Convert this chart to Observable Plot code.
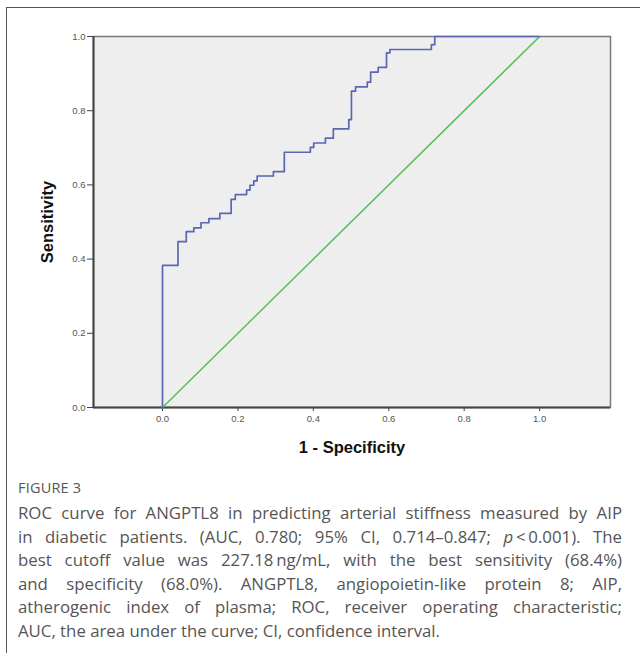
<!DOCTYPE html>
<html>
<head>
<meta charset="utf-8">
<script src="https://cdn.jsdelivr.net/npm/d3@7"></script>
<script src="https://cdn.jsdelivr.net/npm/@observablehq/plot@0.6"></script>
<style>
  html, body { margin: 0; padding: 0; background: #fff; }
  #wrap { position: relative; width: 640px; height: 653px; overflow: hidden; }
  #border { position: absolute; left: 6px; top: 7px; width: 640px; height: 660px;
            border-top: 1.5px solid #555; border-left: 1.5px solid #555; box-sizing: border-box; }
  #chart { position: absolute; left: 0; top: 0; }
  #fig { position: absolute; left: 18px; top: 478px; font-family: "Open Sans", sans-serif;
         font-size: 14.5px; font-weight: 500; color: #555; letter-spacing: 0.2px; line-height: 20px; }
  #cap { position: absolute; left: 18px; top: 501px; width: 604px; font-family: "Open Sans", sans-serif;
         font-size: 16.8px; color: #555; line-height: 23.6px; }
  #cap div { text-align: justify; text-align-last: justify; height: 23.6px; }
  #cap div.last { text-align: left; text-align-last: left; }
</style>
</head>
<body>
<div id="wrap">
  <div id="border"></div>
  <div id="chart"></div>
  <div id="fig">FIGURE 3</div>
  <div id="cap">
    <div>ROC curve for ANGPTL8 in predicting arterial stiffness measured by AIP</div>
    <div>in diabetic patients. (AUC, 0.780; 95% CI, 0.714&#8211;0.847; <i>p</i>&#8201;&lt;&#8201;0.001). The</div>
    <div>best cutoff value was 227.18&#8201;ng/mL, with the best sensitivity (68.4%)</div>
    <div>and specificity (68.0%). ANGPTL8, angiopoietin-like protein 8; AIP,</div>
    <div>atherogenic index of plasma; ROC, receiver operating characteristic;</div>
    <div class="last">AUC, the area under the curve; CI, confidence interval.</div>
  </div>
</div>
<script>
// ROC curve points (top of each vertical step): 1 - specificity, sensitivity
const fpr = [0, 0, 0.041, 0.063, 0.083, 0.102, 0.123, 0.152, 0.182, 0.193, 0.223, 0.232, 0.242, 0.251, 0.294, 0.323,
             0.392, 0.401, 0.432, 0.453, 0.494, 0.501, 0.512, 0.543, 0.552, 0.572, 0.594, 0.603, 0.713, 0.722, 1.0];
const tpr = [0, 0.383, 0.447, 0.474, 0.484, 0.498, 0.509, 0.523, 0.561, 0.574, 0.586, 0.599, 0.611, 0.624, 0.636, 0.688,
             0.701, 0.713, 0.726, 0.751, 0.776, 0.853, 0.864, 0.877, 0.904, 0.917, 0.956, 0.965, 0.978, 1.0, 1.0];
// Reference line
const refX = [0, 1];
const refY = [0, 1];
// Axes
const xTicks = [0, 0.2, 0.4, 0.6, 0.8, 1.0];
const yTicks = [0, 0.2, 0.4, 0.6, 0.8, 1.0];
const xDomain = [-0.183, 1.188];
const yDomain = [0, 1];
const xLabel = "1 - Specificity";
const yLabel = "Sensitivity";

const roc = fpr.map((x, i) => ({x, y: tpr[i]}));
const ref = refX.map((x, i) => ({x, y: refY[i]}));
const fmt = d3.format(".1f");

const chart = Plot.plot({
  width: 640,
  height: 460,
  marginLeft: 93,
  marginRight: 30,
  marginTop: 36,
  marginBottom: 53,
  style: {fontFamily: "Arial, 'Liberation Sans', sans-serif", background: "transparent"},
  x: {domain: xDomain},
  y: {domain: yDomain},
  marks: [
    Plot.frame({fill: "#eeeeee", stroke: "#7a7a7a", strokeWidth: 1.5}),
    Plot.ruleY(yDomain.slice(0, 1), {stroke: "#444", strokeWidth: 2}),
    Plot.ruleX(xDomain.slice(0, 1), {stroke: "#444", strokeWidth: 2}),
    Plot.axisX({ticks: xTicks, tickFormat: fmt, tickSize: 4, tickPadding: 4, fontSize: 9.5, color: "#555", stroke: "#444", label: null}),
    Plot.axisY({ticks: yTicks, tickFormat: fmt, tickSize: 6, tickPadding: 2, fontSize: 9.5, color: "#555", stroke: "#444", label: null}),
    Plot.line(ref, {x: "x", y: "y", stroke: "#57bf57", strokeWidth: 1.5}),
    Plot.line(roc, {x: "x", y: "y", curve: "step-after", stroke: "#5a68b3", strokeWidth: 1.7}),
    Plot.text([xLabel], {frameAnchor: "bottom", lineAnchor: "middle", textAnchor: "middle", dy: 40, fontSize: 16.5, fontWeight: "bold", fill: "#111"}),
    Plot.text([yLabel], {frameAnchor: "left", lineAnchor: "middle", textAnchor: "middle", dx: -46, rotate: -90, fontSize: 16.5, fontWeight: "bold", fill: "#111"})
  ]
});
document.getElementById("chart").appendChild(chart);
</script>
</body>
</html>
